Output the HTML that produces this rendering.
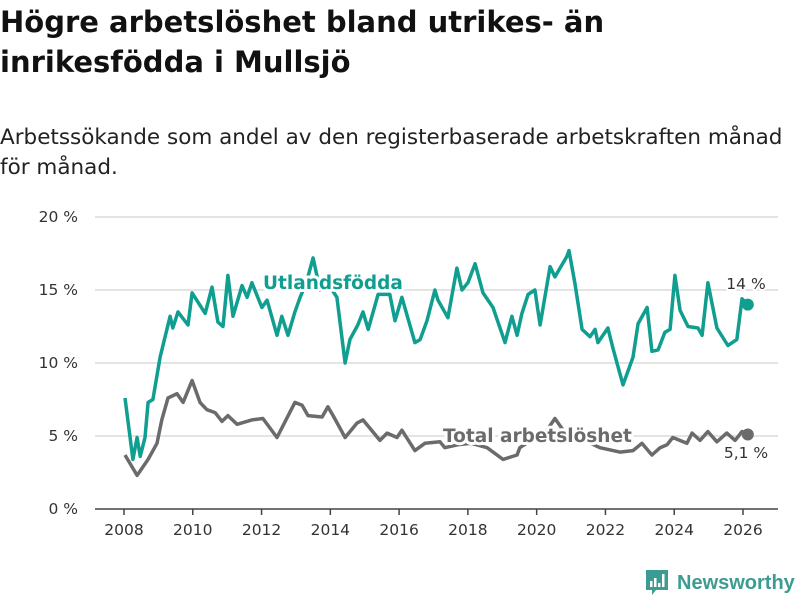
<!DOCTYPE html>
<html><head><meta charset="utf-8"><style>
body{margin:0;width:800px;height:600px;background:#fff;overflow:hidden;font-family:"DejaVu Sans","Liberation Sans",sans-serif;}
#title{position:absolute;left:0;top:2px;font-size:29px;font-weight:bold;line-height:40px;color:#111;margin:0;white-space:nowrap;}
#subtitle{position:absolute;left:0;top:123px;font-size:21.5px;line-height:30px;color:#222;margin:0;white-space:nowrap;}
svg{position:absolute;left:0;top:0;}
</style></head><body>
<h1 id="title">Högre arbetslöshet bland utrikes- än<br>inrikesfödda i Mullsjö</h1>
<p id="subtitle">Arbetssökande som andel av den registerbaserade arbetskraften månad<br>för månad.</p>
<svg id="chart" width="800" height="600"></svg>
<script>
const yTicks=[0,5,10,15,20];
const yTickLabels=["0 %","5 %","10 %","15 %","20 %"];
const xTicks=[2008,2010,2012,2014,2016,2018,2020,2022,2024,2026];
const utlDates=[2008.03,2008.26,2008.38,2008.47,2008.61,2008.70,2008.84,2009.05,2009.34,2009.42,2009.57,2009.86,2009.98,2010.36,2010.56,2010.73,2010.88,2011.02,2011.17,2011.43,2011.58,2011.72,2012.01,2012.16,2012.45,2012.59,2012.77,2012.97,2013.12,2013.3,2013.5,2013.7,2014.0,2014.19,2014.43,2014.57,2014.80,2014.95,2015.10,2015.39,2015.73,2015.88,2016.08,2016.46,2016.61,2016.81,2017.04,2017.13,2017.42,2017.68,2017.83,2018.00,2018.21,2018.44,2018.73,2019.08,2019.28,2019.43,2019.57,2019.75,2019.95,2020.10,2020.39,2020.53,2020.88,2020.94,2021.11,2021.32,2021.55,2021.70,2021.78,2022.07,2022.22,2022.51,2022.80,2022.95,2023.21,2023.35,2023.53,2023.73,2023.88,2024.02,2024.17,2024.40,2024.69,2024.81,2024.98,2025.24,2025.56,2025.82,2025.97,2026.14];
const utlValues=[7.6,3.4,4.9,3.6,4.9,7.3,7.5,10.4,13.2,12.4,13.5,12.6,14.8,13.4,15.2,12.8,12.5,16.0,13.2,15.3,14.5,15.5,13.8,14.3,11.9,13.2,11.9,13.5,14.5,15.5,17.2,15.0,15.2,14.5,10.0,11.6,12.6,13.5,12.3,14.7,14.7,12.9,14.5,11.4,11.6,12.9,15.0,14.3,13.1,16.5,15.0,15.5,16.8,14.8,13.8,11.4,13.2,11.9,13.4,14.7,15.0,12.6,16.6,15.9,17.3,17.7,15.5,12.3,11.8,12.3,11.4,12.4,11.0,8.5,10.4,12.7,13.8,10.8,10.9,12.1,12.3,16.0,13.6,12.5,12.4,11.9,15.5,12.4,11.2,11.6,14.4,14.0];
const totDates=[2008.03,2008.38,2008.70,2008.96,2009.10,2009.28,2009.54,2009.72,2009.98,2010.21,2010.41,2010.65,2010.85,2011.02,2011.29,2011.72,2012.04,2012.45,2012.97,2013.18,2013.35,2013.76,2013.93,2014.08,2014.43,2014.78,2014.95,2015.44,2015.65,2015.94,2016.08,2016.46,2016.75,2017.19,2017.33,2017.7,2018.1,2018.56,2019.02,2019.43,2019.51,2019.9,2020.3,2020.53,2020.8,2021.3,2021.84,2022.42,2022.80,2023.06,2023.35,2023.59,2023.79,2023.96,2024.37,2024.52,2024.75,2024.98,2025.24,2025.53,2025.77,2025.97,2026.14];
const totValues=[3.7,2.3,3.4,4.5,6.1,7.6,7.9,7.3,8.8,7.3,6.8,6.6,6.0,6.4,5.8,6.1,6.2,4.9,7.3,7.1,6.4,6.3,7.0,6.4,4.9,5.9,6.1,4.7,5.2,4.9,5.4,4.0,4.5,4.6,4.2,4.4,4.5,4.2,3.4,3.7,4.2,4.8,5.4,6.2,5.3,4.8,4.2,3.9,4.0,4.5,3.7,4.2,4.4,4.9,4.5,5.2,4.7,5.3,4.6,5.2,4.7,5.3,5.1];

const NS="http://www.w3.org/2000/svg";
const svg=document.getElementById('chart');
const x=d=>124+(d-2008)*(619/18);
const y=v=>509-v*14.6;
function mk(tag,attrs,parent){const e=document.createElementNS(NS,tag);for(const k in attrs)e.setAttribute(k,attrs[k]);(parent||svg).appendChild(e);return e;}

yTicks.forEach((t,i)=>{
  if(t>0){const g=mk('line',{x1:95,x2:778,y1:y(t),y2:y(t),stroke:'#dcdcdc','stroke-width':1.5});
  
  }
  const l=mk('text',{x:78,y:y(t)+5,'text-anchor':'end','font-size':15.5,fill:'#333'});
  l.textContent=yTickLabels[i];
  
  
});
const ax=mk('line',{x1:95,x2:778,y1:509,y2:509,stroke:'#444','stroke-width':1.5});


xTicks.forEach(t=>{
  const tk=mk('line',{x1:x(t),x2:x(t),y1:509,y2:515,stroke:'#444','stroke-width':1.5});
  
  
  const l=mk('text',{x:x(t),y:535,'text-anchor':'middle','font-size':15.5,fill:'#333'});
  l.textContent=t;
  
  
});
function line(dates,vals,color,name){
  const p=mk('path',{d:dates.map((d,i)=>(i?'L':'M')+x(d).toFixed(1)+','+y(vals[i]).toFixed(1)).join(''),fill:'none',stroke:color,'stroke-width':3.5,'stroke-linejoin':'round'});
  
  
  const n=dates.length-1;
  const c=mk('circle',{cx:x(dates[n]),cy:y(vals[n]),r:6,fill:color});
  
  
}
line(totDates,totValues,'#6b6b6b','total-line');
line(utlDates,utlValues,'#0f9e8f','utlandsfodda-line');
function lbl(tx,xx,yy,color,name,size,weight,anchor){
  const t=mk('text',{x:xx,y:yy,'font-size':size,'font-weight':weight,fill:color,stroke:'#fff','stroke-width':weight==='bold'?6:4,'paint-order':'stroke','stroke-linejoin':'round','text-anchor':anchor||'start'});
  t.textContent=tx;
  
  
}
lbl('Utlandsfödda',263,289,'#0f9e8f','utlandsfodda-label',18.5,'bold');
lbl('Total arbetslöshet',443,442,'#6b6b6b','total-label',18.5,'bold');
lbl('14 %',746,289,'#333','utlandsfodda-end-value',15.5,'normal','middle');
lbl('5,1 %',746,458,'#333','total-end-value',15.5,'normal','middle');
</script>
<div style="position:absolute;left:645px;top:568px;height:30px;display:flex;align-items:center;">
<svg width="24" height="30" style="position:static"><path d="M1 2h22v20H11l-4 5v-5H1z" fill="#3d9c92"/><rect x="5" y="13" width="2.5" height="6" fill="#fff"/><rect x="9" y="10" width="2.5" height="9" fill="#fff"/><rect x="13" y="15" width="2.5" height="4" fill="#fff"/><rect x="17" y="6" width="2.5" height="13" fill="#fff"/></svg>
<span style="margin-left:8px;font-size:20px;font-weight:bold;color:#3d9c92;font-family:'Liberation Sans',sans-serif;">Newsworthy</span>
</div>
</body></html>
